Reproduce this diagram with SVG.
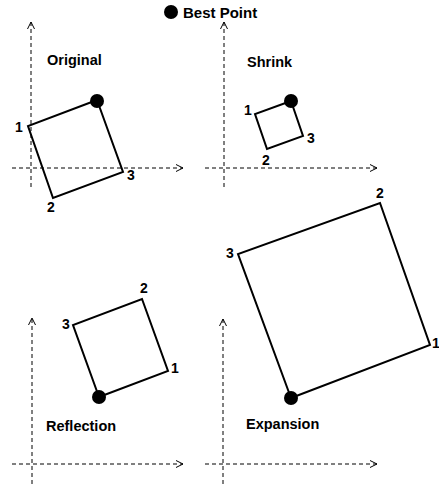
<svg xmlns="http://www.w3.org/2000/svg" width="439" height="484" viewBox="0 0 439 484">
<style>
.axis{stroke:#000;stroke-width:1;stroke-dasharray:4 3;fill:none}
.sq{stroke:#000;stroke-width:2;fill:none;stroke-linejoin:miter}
.best{fill:#000}
.title{font-family:"Liberation Sans",Arial,sans-serif;font-weight:bold;font-size:14.5px;fill:#000}
.num{font-family:"Liberation Sans",Arial,sans-serif;font-weight:bold;font-size:14px;fill:#000;text-anchor:middle}
</style>
<defs>
<marker id="arr" viewBox="0 0 10 10" refX="9" refY="5" markerWidth="10" markerHeight="10" markerUnits="userSpaceOnUse" orient="auto">
<path d="M2,1.5 L9,5 L2,8.5" fill="none" stroke="#000" stroke-width="1"/>
</marker>
</defs>
<g id="connectors">
<line class="axis" x1="31" y1="187" x2="31" y2="22" marker-end="url(#arr)"/>
<line class="axis" x1="12" y1="168" x2="183" y2="168" marker-end="url(#arr)"/>
<line class="axis" x1="224" y1="187" x2="224" y2="22" marker-end="url(#arr)"/>
<line class="axis" x1="205" y1="168" x2="377" y2="168" marker-end="url(#arr)"/>
<line class="axis" x1="32" y1="484" x2="32" y2="318" marker-end="url(#arr)"/>
<line class="axis" x1="12" y1="464" x2="183" y2="464" marker-end="url(#arr)"/>
<line class="axis" x1="223" y1="484" x2="223" y2="319" marker-end="url(#arr)"/>
<line class="axis" x1="205" y1="464" x2="377" y2="464" marker-end="url(#arr)"/>
</g>
<g id="legend">
<circle class="best" cx="171" cy="12" r="7"/>
<text class="title" x="183" y="18" style="font-size:15px">Best Point</text>
</g>
<g id="original">
<text class="title" x="47" y="65">Original</text>
<polygon class="sq" points="97,100 28,126 53,198 123,172"/>
<circle class="best" cx="97" cy="101" r="7"/>
<text class="num" x="19" y="132">1</text>
<text class="num" x="51" y="212">2</text>
<text class="num" x="131" y="180">3</text>
</g>
<g id="shrink">
<text class="title" x="247" y="67">Shrink</text>
<polygon class="sq" points="291,101 255,114 267,149 303,136"/>
<circle class="best" cx="291" cy="101" r="7"/>
<text class="num" x="248" y="115">1</text>
<text class="num" x="266" y="165">2</text>
<text class="num" x="311" y="143">3</text>
</g>
<g id="reflection">
<text class="title" x="46" y="431">Reflection</text>
<polygon class="sq" points="99,397 168,371 142,299 73,325"/>
<circle class="best" cx="99" cy="397" r="7"/>
<text class="num" x="144" y="293">2</text>
<text class="num" x="66" y="329">3</text>
<text class="num" x="175" y="373">1</text>
</g>
<g id="expansion">
<text class="title" x="246" y="429">Expansion</text>
<polygon class="sq" points="291,398 430,345 380,203 238,254"/>
<circle class="best" cx="291" cy="398" r="7"/>
<text class="num" x="380" y="198">2</text>
<text class="num" x="230" y="258">3</text>
<text class="num" x="436" y="348">1</text>
</g>
</svg>
